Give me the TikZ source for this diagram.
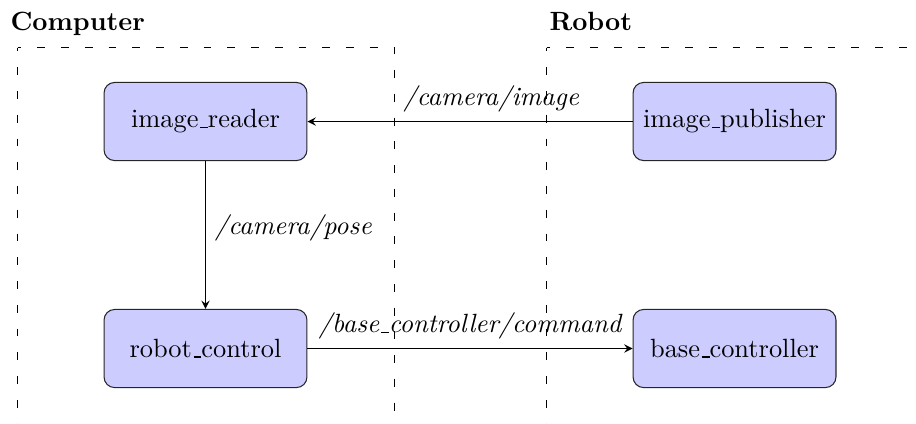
\documentclass[tikz,border=0pt]{standalone}
\usetikzlibrary{arrows}
\makeatletter
\newcommand{\lowbar}{\leavevmode\kern.06em\vbox{\hrule\@width.3em}}
\makeatother
\begin{document}
\begin{tikzpicture}[x=0.379pt,y=-0.379pt,
  rosnode/.style={draw=black!85,fill=blue!20,rounded corners=4pt,minimum width=76.9pt,minimum height=29.6pt,inner sep=2pt,font=\normalsize},
  topic/.style={font=\itshape},
  region/.style={draw=black,line width=0.4pt,dash pattern=on 3pt off 6pt},
  title/.style={font=\bfseries,inner sep=0pt,anchor=base west},
  link/.style={-stealth,line width=0.4pt}]
\useasboundingbox (0,0) rectangle (916,423);
\clip (0,0) rectangle (916,423);
% regions
\coordinate (cTL) at (17.5,47.5);
\coordinate (cTR) at (394.5,47.5);
\coordinate (cBL) at (17.5,460);
\coordinate (cBR) at (394.5,460);
\coordinate (rTL) at (546.5,47.5);
\coordinate (rTR) at (960,47.5);
\coordinate (rBL) at (546.5,460);
\draw[region,dash phase=1.5pt] (cTL) -- (cBL);
\draw[region,dash phase=1.5pt] (cTL) -- (cTR) -- (cBR);
\draw[region,dash phase=1.5pt] (rTL) -- (rBL);
\draw[region,dash phase=1.5pt] (rTL) -- (rTR);
\node[title] (comp) at (10,30) {Computer};
\node[title] (rob) at (549,30) {Robot};
% nodes
\node[rosnode] (ir) at (205.5,121.5) {image\lowbar reader};
\node[rosnode] (ip) at (734.5,121.5) {image\lowbar publisher};
\node[rosnode] (rc) at (205.5,348.5) {robot\lowbar control};
\node[rosnode] (bc) at (734.5,348.5) {base\lowbar controller};
% connectors
\draw[link] (ip) -- node[topic,above,pos=0.435] {/camera/image} (ir);
\draw[link] (ir) -- node[topic,right,pos=0.45] {/camera/pose} (rc);
\draw[link] (rc) -- node[topic,above] {/base\lowbar controller/command} (bc);
\end{tikzpicture}
\end{document}
